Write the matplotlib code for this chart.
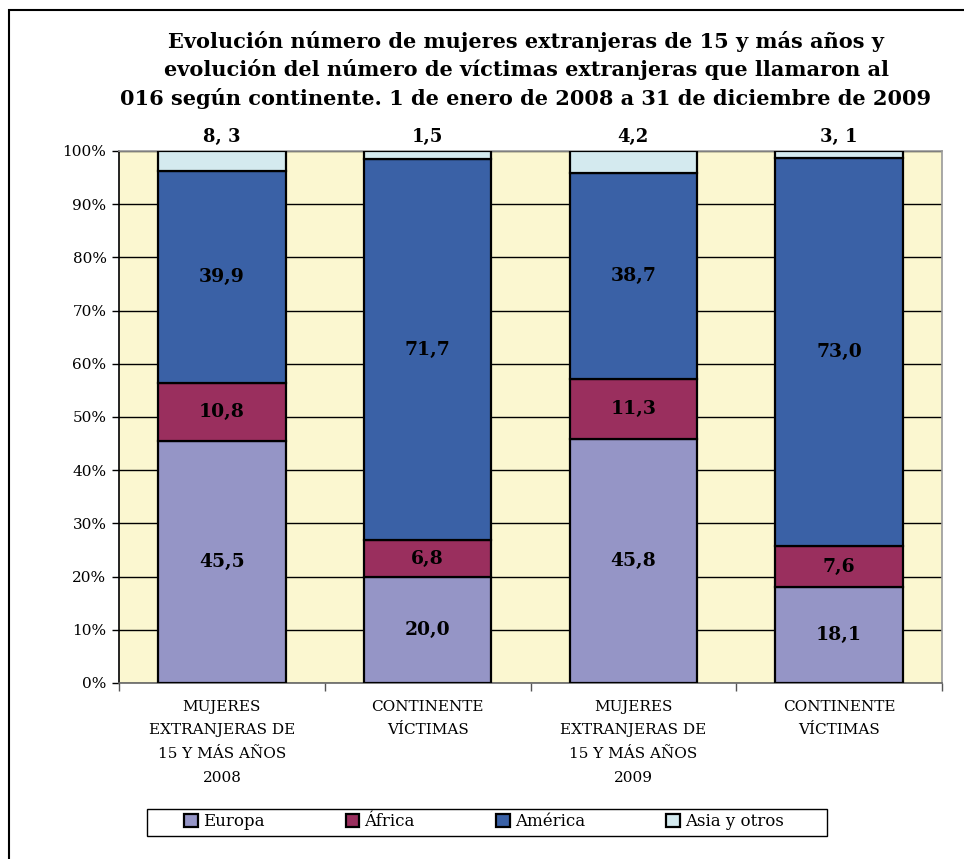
import matplotlib
matplotlib.use("Agg")
import matplotlib.pyplot as plt
import numpy as np
from matplotlib.patches import Rectangle

categories = ["MUJERES\nEXTRANJERAS DE\n15 Y MÁS AÑOS\n2008",
              "CONTINENTE\nVÍCTIMAS",
              "MUJERES\nEXTRANJERAS DE\n15 Y MÁS AÑOS\n2009",
              "CONTINENTE\nVÍCTIMAS"]
series_names = ["Europa", "África", "América", "Asia y otros"]
europa = [45.5, 20.0, 45.8, 18.1]
africa = [10.8, 6.8, 11.3, 7.6]
america = [39.9, 71.7, 38.7, 73.0]
asia = [3.8, 1.5, 4.2, 1.3]          # heights as drawn
asia_labels = ["8, 3", "1,5", "4,2", "3, 1"]  # labels as printed
colors = ["#9595C6", "#9A2F5E", "#3A61A6", "#D4EAEF"]

plt.rcParams['font.family'] = ['DejaVu Serif']

fig = plt.figure(figsize=(9.64, 8.59), dpi=100)
ax = fig.add_axes([119/964, 1-683/859, (942-119)/964, (683-151)/859])
ax.set_facecolor("#FBF7D0")

x = np.arange(len(categories))
w = 0.62
bottom = np.zeros(len(categories))
for vals, col, name in zip([europa, africa, america, asia], colors, series_names):
    ax.bar(x, vals, w, bottom=bottom, color=col, edgecolor="black", linewidth=1.6,
           label=name, zorder=3)
    if name != "Asia y otros":
        for xi, b, v in zip(x, bottom, vals):
            ax.text(xi, b + v/2, f"{v:.1f}".replace(".", ","), ha="center", va="center",
                    fontsize=13.5, fontweight="bold", zorder=4)
    bottom += np.array(vals)

for xi, lab in zip(x, asia_labels):
    ax.text(xi, 102.7, lab, ha="center", va="center", fontsize=13, fontweight="bold")

ax.set_ylim(0, 100)
ax.set_xlim(-0.5, 3.5)
ax.set_yticks(np.arange(0, 101, 10))
ax.set_yticklabels([f"{v}%" for v in range(0, 101, 10)], fontsize=11)
ax.yaxis.grid(True, color="black", linewidth=1.0, zorder=1)
ax.set_axisbelow(True)
ax.tick_params(axis="y", direction="out", length=5, width=1, color="black", pad=4)

ax.set_xticks([-0.5, 0.5, 1.5, 2.5, 3.5])
ax.set_xticklabels([])
ax.tick_params(axis="x", which="major", direction="out", length=6, width=1, color="#555555")
ax.set_xticks(x, minor=True)
ax.set_xticklabels(categories, minor=True, fontsize=11, linespacing=1.88)
ax.tick_params(axis="x", which="minor", length=0, pad=12)

ax.spines["left"].set_color("black")
ax.spines["bottom"].set_color("#666666")
ax.spines["right"].set_color("#999999")
ax.spines["top"].set_color("#999999")
for s in ax.spines.values():
    s.set_linewidth(1.2)

fig.text(526/964, 1-70/859,
         "Evolución número de mujeres extranjeras de 15 y más años y\n"
         "evolución del número de víctimas extranjeras que llamaron al\n"
         "016 según continente. 1 de enero de 2008 a 31 de diciembre de 2009",
         ha="center", va="center", fontsize=15, fontweight="bold", linespacing=1.45)

leg = fig.legend(loc="center", bbox_to_anchor=(484/964, 1-822/859), ncol=4,
                 frameon=False, fontsize=12,
                 handlelength=0.8, handleheight=0.8, handletextpad=0.3,
                 columnspacing=4.9, borderpad=0.3)
fig.patches.append(Rectangle((147/964, 1-836/859), (827-147)/964, 27/859,
                             transform=fig.transFigure, fill=False,
                             edgecolor="black", linewidth=1.0))

fig.patches.append(Rectangle((9/964, -0.2), 1.2, 1.2-10/859, transform=fig.transFigure,
                             fill=False, edgecolor="black", linewidth=1.5))

fig.savefig("out.png", dpi=100)
